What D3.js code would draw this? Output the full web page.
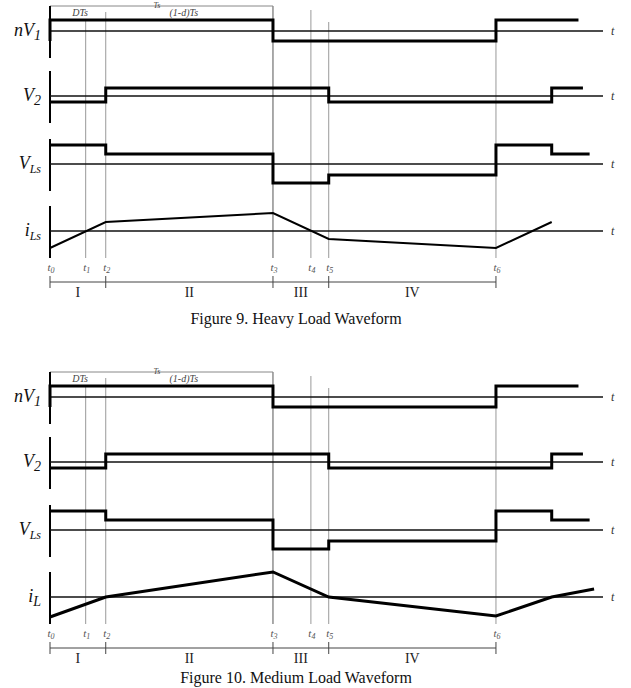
<!DOCTYPE html>
<html>
<head>
<meta charset="utf-8">
<script src="https://cdn.jsdelivr.net/npm/d3@7"></script>
<style>
  body { margin: 0; background: #fff; }
  svg { display: block; background: #fff; }
  text { font-family: "Liberation Serif", "DejaVu Serif", serif; }
</style>
</head>
<body>
<svg width="631" height="688"></svg>
<script>
// times are in units of Ts (t3 - t0 = Ts)
var eventNames = ["0", "1", "2", "3", "4", "5", "6"];
var eventTimes = [0, 0.16, 0.25, 1, 1.17, 1.25, 2];
var intervalNames = ["I", "II", "III", "IV"];
var intervalBounds = [0, 0.25, 1, 1.25, 2];
var captions = ["Figure 9. Heavy Load Waveform", "Figure 10. Medium Load Waveform"];

// step waveforms: level holds from each time until the next
var nV1Times = [0, 0, 1, 2, 2.37];
var nV1Levels = [-1.0, 1.1, -1.0, 1.1, 1.1];
var v2Times = [0, 0.25, 1.25, 2.25, 2.39];
var v2Levels = [-0.6, 0.8, -0.6, 0.8, 0.8];
var vLsTimes = [0, 0.25, 1, 1.25, 2, 2.25, 2.42];
var vLsLevels = [1.9, 1.0, -1.9, -1.1, 1.9, 1.0, 1.0];

// inductor current, piecewise linear
var iHeavyTimes = [0, 0.25, 1, 1.25, 2, 2.25];
var iHeavyValues = [-1.7, 0.9, 1.8, -0.8, -1.7, 0.9];
var iMediumTimes = [0, 0.25, 1, 1.25, 2, 2.25, 2.44];
var iMediumValues = [-2.0, 0, 2.5, 0, -1.9, 0, 0.8];

var svg = d3.select("svg");

var x = d3.scaleLinear().domain([0, 2.48]).range([50, 603]);

var panelBase = [31, 96, 164, 231]; // baseline of each trace, from figure top
var lineTop = [6, 20, 12, 6, 10, 22, 20]; // where each time marker starts
var lineBottom = 258;

function zip(ts, vs) {
  return ts.map(function (t, i) {
    return [t, vs[i]];
  });
}

function drawFigure(top, iTimes, iValues, iSub, iWidth, caption, captionY) {
  var g = svg.append("g").attr("transform", "translate(0," + top + ")");

  // time markers
  g.append("g")
    .selectAll("line")
    .data(eventTimes.slice(1))
    .enter()
    .append("line")
    .attr("x1", function (d) { return x(d); })
    .attr("x2", function (d) { return x(d); })
    .attr("y1", function (d, i) { return lineTop[i + 1]; })
    .attr("y2", lineBottom)
    .style("stroke", function (d) { return d === 1 ? "#555" : "#999"; })
    .style("stroke-width", 1);

  // Ts bracket
  g.append("line")
    .attr("x1", x(0)).attr("x2", x(1))
    .attr("y1", 6).attr("y2", 6)
    .style("stroke", "#888").style("stroke-width", 1);
  g.append("text")
    .attr("x", x(0.48)).attr("y", 7.5)
    .attr("text-anchor", "middle")
    .style("font-style", "italic").style("font-size", "8px").style("fill", "#444")
    .text("Ts");
  g.append("text")
    .attr("x", x(0.135)).attr("y", 16)
    .attr("text-anchor", "middle")
    .style("font-style", "italic").style("font-size", "10px").style("fill", "#444")
    .text("DTs");
  g.append("text")
    .attr("x", x(0.6)).attr("y", 16)
    .attr("text-anchor", "middle")
    .style("font-style", "italic").style("font-size", "10px").style("fill", "#444")
    .text("(1-d)Ts");

  // left axis, broken between traces
  g.append("g")
    .selectAll("line")
    .data(panelBase)
    .enter()
    .append("line")
    .attr("x1", x(0)).attr("x2", x(0))
    .attr("y1", function (d) { return d - 25; })
    .attr("y2", function (d) { return d + 27; })
    .style("stroke", "#000")
    .style("stroke-width", 2);

  var traces = [
    { pts: zip(nV1Times, nV1Levels), step: true, main: "nV", sub: "1", w: 3 },
    { pts: zip(v2Times, v2Levels), step: true, main: "V", sub: "2", w: 3 },
    { pts: zip(vLsTimes, vLsLevels), step: true, main: "V", sub: "Ls", w: 3 },
    { pts: zip(iTimes, iValues), step: false, main: "i", sub: iSub, w: iWidth },
  ];

  traces.forEach(function (tr, k) {
    var base = panelBase[k];
    var y = d3.scaleLinear().domain([-2.6, 2.6]).range([base + 26, base - 26]);

    g.append("line")
      .attr("x1", x(0)).attr("x2", x(2.48))
      .attr("y1", y(0)).attr("y2", y(0))
      .style("stroke", "#111").style("stroke-width", 1.5);

    g.append("text")
      .attr("x", 611).attr("y", y(0) + 4)
      .style("font-style", "italic").style("font-size", "12px").style("fill", "#333")
      .text("t");

    var line = d3
      .line()
      .x(function (d) { return x(d[0]); })
      .y(function (d) { return y(d[1]); })
      .curve(tr.step ? d3.curveStepAfter : d3.curveLinear);

    g.append("path")
      .datum(tr.pts)
      .attr("d", line)
      .style("fill", "none")
      .style("stroke", "#000")
      .style("stroke-width", tr.w)
      .style("stroke-linejoin", "miter");

    var label = g.append("text")
      .attr("x", 41).attr("y", y(0) + 5)
      .attr("text-anchor", "end")
      .style("font-style", "italic").style("font-size", "18px").style("fill", "#111");
    label.append("tspan").text(tr.main);
    label.append("tspan")
      .attr("dy", 4)
      .style("font-size", tr.sub.length > 1 ? "12px" : "14px")
      .text(tr.sub);
  });

  // event names under the traces
  var tl = g.append("g")
    .selectAll("text")
    .data(eventTimes)
    .enter()
    .append("text")
    .attr("x", function (d) { return x(d) + 1; })
    .attr("y", 271)
    .attr("text-anchor", "middle")
    .style("font-style", "italic").style("font-size", "11px").style("fill", "#555");
  tl.append("tspan").text("t");
  tl.append("tspan")
    .attr("dy", 2)
    .style("font-size", "8px")
    .text(function (d, i) { return eventNames[i]; });

  // interval bracket
  g.append("line")
    .attr("x1", x(0)).attr("x2", x(2))
    .attr("y1", 282).attr("y2", 282)
    .style("stroke", "#444").style("stroke-width", 1);
  g.append("g")
    .selectAll("line")
    .data(intervalBounds)
    .enter()
    .append("line")
    .attr("x1", function (d) { return x(d); })
    .attr("x2", function (d) { return x(d); })
    .attr("y1", 276).attr("y2", 288)
    .style("stroke", "#444").style("stroke-width", 1);
  g.append("g")
    .selectAll("text")
    .data(intervalNames)
    .enter()
    .append("text")
    .attr("x", function (d, i) { return x((intervalBounds[i] + intervalBounds[i + 1]) / 2); })
    .attr("y", 297)
    .attr("text-anchor", "middle")
    .style("font-size", "14px").style("fill", "#222")
    .text(function (d) { return d; });

  g.append("text")
    .attr("x", 296).attr("y", captionY)
    .attr("text-anchor", "middle")
    .style("font-size", "16px").style("fill", "#111")
    .text(caption);
}

drawFigure(0, iHeavyTimes, iHeavyValues, "Ls", 2, captions[0], 324);
drawFigure(366, iMediumTimes, iMediumValues, "L", 3, captions[1], 317);
</script>
</body>
</html>
